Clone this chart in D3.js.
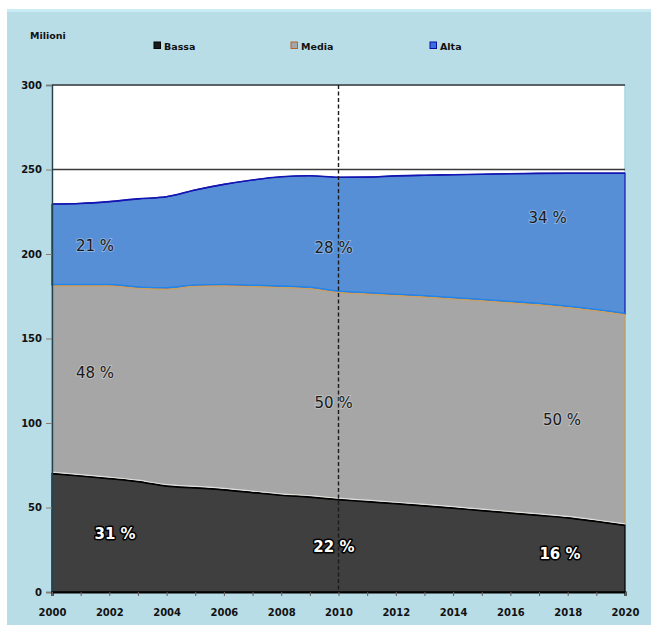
<!DOCTYPE html>
<html>
<head>
<meta charset="utf-8">
<script src="https://cdn.jsdelivr.net/npm/d3@7"></script>
<style>
  html, body { margin: 0; padding: 0; background: #ffffff; }
  svg { display: block; }
</style>
</head>
<body>
<svg id="chart" width="651" height="625"></svg>
<script>
// Population by income band, millions
const years = [2000, 2001, 2002, 2003, 2004, 2005, 2006, 2007, 2008, 2009, 2010,
               2011, 2012, 2013, 2014, 2015, 2016, 2017, 2018, 2019, 2020];
const bassa = [70.2, 68.8, 67.2, 65.5, 62.8, 61.8, 60.6, 59.0, 57.4, 56.3, 54.8,
               53.6, 52.4, 51.1, 49.8, 48.3, 46.9, 45.5, 44.0, 41.9, 39.6];
const media = [111.0, 112.4, 114.0, 114.3, 116.5, 119.2, 120.6, 121.8, 122.9, 123.3, 122.5,
               122.8, 123.1, 123.5, 123.7, 124.1, 124.3, 124.5, 124.4, 124.6, 124.6];
const alta  = [48.4, 48.7, 49.8, 52.8, 54.6, 56.9, 60.0, 63.0, 65.4, 66.7, 68.1,
               69.1, 70.7, 72.0, 73.4, 74.8, 76.3, 77.7, 79.4, 81.3, 83.6];

const seriesNames = ["Bassa", "Media", "Alta"];
const yTicks = [0, 50, 100, 150, 200, 250, 300];
const xTickLabels = [2000, 2002, 2004, 2006, 2008, 2010, 2012, 2014, 2016, 2018, 2020];
const shareYears = [2000, 2010, 2020];   // years whose shares are printed
const refValue = 250;                     // horizontal reference line
const refYear = 2010;                     // vertical dashed marker
const unitLabel = "Milioni";

// ---- layout ----
const W = 651, H = 625;
const plot = { left: 52, right: 625, top: 85, bottom: 592 };

const svg = d3.select("#chart");

// background panel
svg.append("rect").attr("x", 0).attr("y", 0).attr("width", W).attr("height", H).attr("fill", "#ffffff");
svg.append("rect").attr("x", 7).attr("y", 9).attr("width", W - 7).attr("height", H - 9).attr("fill", "#b9dde7");
svg.append("rect").attr("x", 7).attr("y", 9).attr("width", W - 7).attr("height", 3).attr("fill", "#c9ebf3");

const x = d3.scaleLinear().domain([2000, 2020]).range([plot.left, plot.right]);
const y = d3.scaleLinear().domain([0, 300]).range([plot.bottom, plot.top]);

// plot area
svg.append("rect")
  .attr("x", plot.left).attr("y", plot.top)
  .attr("width", plot.right - plot.left).attr("height", plot.bottom - plot.top)
  .attr("fill", "#ffffff")
  .attr("stroke", "#a9d3e2").attr("stroke-width", 1.5);

// stacked data
const rows = years.map((yr, i) => ({ year: yr, Bassa: bassa[i], Media: media[i], Alta: alta[i] }));
const stacked = d3.stack().keys(seriesNames)(rows);

const fills   = { Bassa: "#3f3f3f", Media: "#a6a6a6", Alta: "#568fd6" };
const strokes = { Bassa: "#000000", Media: "#c49a5a", Alta: "#1616b8" };

const area = d3.area()
  .x(d => x(d.data.year))
  .y0(d => y(d[0]))
  .y1(d => y(d[1]))
  .curve(d3.curveMonotoneX);

const topLine = d3.line()
  .x(d => x(d.data.year))
  .y(d => y(d[1]))
  .curve(d3.curveMonotoneX);

const gAreas = svg.append("g");
// draw from top layer down so lower outlines sit on top
[...stacked].reverse().forEach(s => {
  gAreas.append("path")
    .datum(s)
    .attr("d", area)
    .attr("fill", fills[s.key])
    .attr("stroke", strokes[s.key])
    .attr("stroke-width", 1.2)
    .attr("stroke-linejoin", "round");
});

// boundary highlights
const sMedia = stacked.find(s => s.key === "Media");
const sBassa = stacked.find(s => s.key === "Bassa");
const sAlta  = stacked.find(s => s.key === "Alta");

gAreas.append("path").datum(sMedia)
  .attr("d", topLine).attr("transform", "translate(0,-1.3)")
  .attr("fill", "none").attr("stroke", "#1c86ee").attr("stroke-width", 1.3);
gAreas.append("path").datum(sMedia)
  .attr("d", topLine).attr("transform", "translate(0,0.3)")
  .attr("fill", "none").attr("stroke", "#c9a26a").attr("stroke-width", 1);
gAreas.append("path").datum(sBassa)
  .attr("d", topLine).attr("transform", "translate(0,-1.2)")
  .attr("fill", "none").attr("stroke", "#dedede").attr("stroke-width", 1.2);
gAreas.append("path").datum(sBassa)
  .attr("d", topLine).attr("transform", "translate(0,0.4)")
  .attr("fill", "none").attr("stroke", "#000000").attr("stroke-width", 1.4);
gAreas.append("path").datum(sAlta)
  .attr("d", topLine)
  .attr("fill", "none").attr("stroke", "#1414b0").attr("stroke-width", 1.6);

// reference lines
svg.append("line")
  .attr("x1", plot.left).attr("x2", plot.right)
  .attr("y1", y(300)).attr("y2", y(300))
  .attr("stroke", "#3a3a3a").attr("stroke-width", 1.6);
svg.append("line")
  .attr("x1", plot.left).attr("x2", plot.right)
  .attr("y1", y(refValue)).attr("y2", y(refValue))
  .attr("stroke", "#3a3a3a").attr("stroke-width", 1.6);
svg.append("line")
  .attr("x1", x(refYear)).attr("x2", x(refYear))
  .attr("y1", plot.top).attr("y2", plot.bottom)
  .attr("stroke", "#1b1b1b").attr("stroke-width", 1.4)
  .attr("stroke-dasharray", "4,2.5");

// axes
const yAxis = d3.axisLeft(y).tickValues(yTicks).tickSize(6).tickPadding(4).tickFormat(d3.format("d"));
const gy = svg.append("g").attr("transform", `translate(${plot.left},0)`).call(yAxis);
gy.select(".domain").attr("stroke", "#23424f").attr("stroke-width", 1.4);
gy.selectAll(".tick line").attr("stroke", "#8c7b6a");
gy.selectAll(".tick text")
  .attr("font-family", "DejaVu Sans, sans-serif").attr("font-weight", "bold")
  .attr("font-size", 10).attr("fill", "#111");

const xAxis = d3.axisBottom(x).tickValues(years).tickSize(4).tickPadding(13)
  .tickFormat(d => xTickLabels.includes(d) ? String(d) : "");
const gx = svg.append("g").attr("transform", `translate(0,${plot.bottom})`).call(xAxis);
gx.select(".domain").attr("stroke", "#000").attr("stroke-width", 2.2);
gx.selectAll(".tick line").attr("stroke", "#6a5a5a");
gx.selectAll(".tick text")
  .attr("font-family", "DejaVu Sans, sans-serif").attr("font-weight", "bold")
  .attr("font-size", 10).attr("fill", "#111");

// share labels, computed from the stacked values
const labelSpots = {
  2000: { at: 2001.5, Alta: 204.7, Media: 129.6, Bassa: 34.3, bassaAt: 2002.2 },
  2010: { at: 2009.83, Alta: 203.5, Media: 111.8, Bassa: 26.6, bassaAt: 2009.84 },
  2020: { at: 2017.3, Alta: 221.5, Media: 101.8, Bassa: 22.5, mediaAt: 2017.8, bassaAt: 2017.73 }
};
const gLabels = svg.append("g");
shareYears.forEach(yr => {
  const i = years.indexOf(yr);
  const total = bassa[i] + media[i] + alta[i];
  const share = { Bassa: bassa[i] / total, Media: media[i] / total, Alta: alta[i] / total };
  const spot = labelSpots[yr];
  seriesNames.forEach(k => {
    const txt = Math.round(share[k] * 100) + " %";
    const lx = k === "Bassa" ? spot.bassaAt : (k === "Media" && spot.mediaAt ? spot.mediaAt : spot.at);
    const t = gLabels.append("text")
      .attr("x", x(lx)).attr("y", y(spot[k]))
      .attr("text-anchor", "middle").attr("dominant-baseline", "central")
      .attr("font-family", "DejaVu Sans, sans-serif")
      .text(txt);
    if (k === "Bassa") {
      t.attr("font-size", 15).attr("font-weight", "bold")
        .attr("fill", "#ffffff").attr("stroke", "#000000").attr("stroke-width", 3)
        .attr("paint-order", "stroke").attr("stroke-linejoin", "round");
    } else {
      t.attr("font-size", 15).attr("fill", "#1a1a1a")
        .attr("stroke", "rgba(235,240,245,0.35)").attr("stroke-width", 2)
        .attr("paint-order", "stroke");
    }
  });
});

// unit label
svg.append("text")
  .attr("x", 30).attr("y", 39)
  .attr("font-family", "DejaVu Sans, sans-serif").attr("font-weight", "bold")
  .attr("font-size", 9.5).attr("fill", "#111")
  .text(unitLabel);

// legend
const legendX = { Bassa: 154, Media: 291, Alta: 430 };
const legendSwatch = {
  Bassa: { fill: "#1a1a1a", stroke: "#000000" },
  Media: { fill: "#a6a6a6", stroke: "#b5652a" },
  Alta:  { fill: "#3a6fe0", stroke: "#0d0da0" }
};
const gLeg = svg.append("g");
seriesNames.forEach(k => {
  gLeg.append("rect")
    .attr("x", legendX[k]).attr("y", 42).attr("width", 6.5).attr("height", 6.5)
    .attr("fill", legendSwatch[k].fill).attr("stroke", legendSwatch[k].stroke).attr("stroke-width", 1);
  gLeg.append("text")
    .attr("x", legendX[k] + 10).attr("y", 49.5)
    .attr("font-family", "DejaVu Sans, sans-serif").attr("font-weight", "bold")
    .attr("font-size", 9.5).attr("fill", "#111")
    .text(k);
});
</script>
</body>
</html>
